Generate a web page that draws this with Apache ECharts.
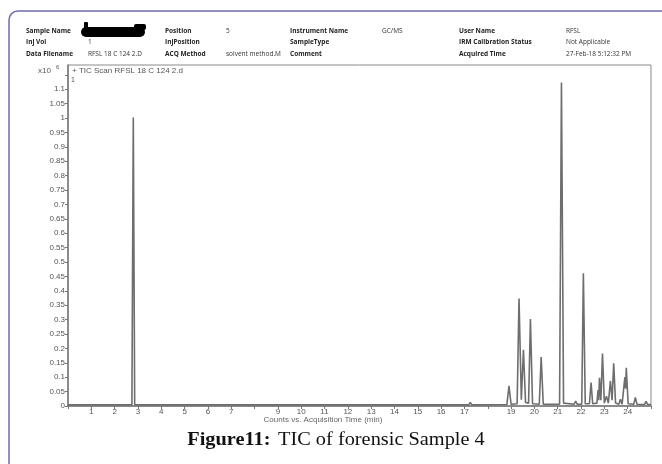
<!DOCTYPE html>
<html>
<head>
<meta charset="utf-8">
<script src="https://cdn.jsdelivr.net/npm/echarts@6/dist/echarts.min.js"></script>
<style>
  html, body { margin: 0; padding: 0; background: #fff; }
  #chart { width: 662px; height: 464px; }
</style>
</head>
<body>
<div id="chart"></div>
<script>
// Total ion chromatogram: retention time (min) vs. counts (x10^6)
const retentionTimes = [
  0, 2.74, 2.80, 2.86, 3.30, 3.35, 3.40,
  15.40, 15.48, 15.56, 17.18, 17.25, 17.32,
  18.82, 18.91, 19.00, 19.26, 19.34, 19.44, 19.53, 19.62, 19.75, 19.83, 19.92,
  20.21, 20.29, 20.38, 21.08, 21.16, 21.25, 21.70, 21.77, 21.84,
  22.03, 22.10, 22.18, 22.36, 22.43, 22.50, 22.68, 22.73, 22.76, 22.79, 22.85,
  22.92, 23.00, 23.09, 23.17, 23.26, 23.33, 23.40, 23.48, 23.62, 23.69, 23.76,
  23.84, 23.88, 23.91, 23.94, 24.02, 24.26, 24.33, 24.40, 24.72, 24.79, 24.86, 25
];
const counts = [
  0.004, 0.004, 1.002, 0.004, 0.004, 0.008, 0.004,
  0.004, 0.008, 0.004, 0.004, 0.012, 0.004,
  0.005, 0.070, 0.006, 0.008, 0.373, 0.022, 0.195, 0.012, 0.010, 0.302, 0.008,
  0.006, 0.170, 0.006, 0.006, 1.123, 0.010, 0.006, 0.017, 0.006,
  0.006, 0.461, 0.008, 0.008, 0.081, 0.008, 0.010, 0.055, 0.020, 0.098, 0.020,
  0.182, 0.010, 0.034, 0.010, 0.087, 0.020, 0.148, 0.010, 0.006, 0.023, 0.006,
  0.010, 0.100, 0.060, 0.133, 0.008, 0.006, 0.030, 0.006, 0.005, 0.016, 0.005, 0.005
];
const xTickLabels = ['', '1', '2', '3', '4', '5', '6', '7', '', '9', '10', '11', '12',
  '13', '14', '15', '16', '17', '', '19', '20', '21', '22', '23', '24', ''];

// Acquisition header rows: [label, value] per column
const headerCol1 = [['Sample Name', ''], ['Inj Vol', '1'], ['Data Filename', 'RFSL 18 C 124 2.D']];
const headerCol2 = [['Position', '5'], ['InjPosition', ''], ['ACQ Method', 'solvent method.M']];
const headerCol3 = [['Instrument Name', 'GC/MS'], ['SampleType', ''], ['Comment', '']];
const headerCol4 = [['User Name', 'RFSL'], ['IRM Calibration Status', 'Not Applicable'], ['Acquired Time', '27-Feb-18 5:12:32 PM']];

const seriesData = retentionTimes.map((t, i) => [t, counts[i]]);

const headerFont = '"Open Sans", "Liberation Sans", sans-serif';
const headerGraphics = [];
const columns = [
  { rows: headerCol1, lx: 26, vx: 88 },
  { rows: headerCol2, lx: 165, vx: 226 },
  { rows: headerCol3, lx: 290, vx: 382 },
  { rows: headerCol4, lx: 459, vx: 566 }
];
const rowY = [32, 43.5, 55];
columns.forEach(col => {
  col.rows.forEach((r, i) => {
    headerGraphics.push({
      type: 'text', left: col.lx, top: rowY[i] - 4.5,
      style: { text: r[0], font: 'bold 6.5px ' + headerFont, fill: '#222' }
    });
    if (r[1]) {
      headerGraphics.push({
        type: 'text', left: col.vx, top: rowY[i] - 4.5,
        style: { text: r[1], font: '6.5px ' + headerFont, fill: '#333' }
      });
    }
  });
});

const chart = echarts.init(document.getElementById('chart'), null, { renderer: 'canvas' });
chart.setOption({
  animation: false,
  backgroundColor: '#fff',
  grid: {
    left: 68, right: 11, top: 65, bottom: 58,
    show: true, borderColor: '#8a8a8a', borderWidth: 1
  },
  xAxis: {
    type: 'value', min: 0, max: 25, interval: 1,
    axisLine: { show: true, lineStyle: { color: '#777', width: 1.5 } },
    axisTick: { show: true, length: 3, lineStyle: { color: '#777' } },
    axisLabel: {
      margin: 2, fontSize: 8, color: '#555', fontFamily: 'Liberation Sans, sans-serif',
      showMinLabel: true, showMaxLabel: true,
      formatter: v => xTickLabels[Math.round(v)] || ''
    },
    splitLine: { show: false }
  },
  yAxis: {
    type: 'value', min: 0, max: 1.184, interval: 0.05,
    axisLine: { show: true, lineStyle: { color: '#777', width: 1.5 } },
    axisTick: { show: true, length: 3, lineStyle: { color: '#777' } },
    axisLabel: {
      margin: 3, fontSize: 8, color: '#555', fontFamily: 'Liberation Sans, sans-serif',
      showMaxLabel: false,
      formatter: v => (v > 1.101 ? '' : String(Math.round(v * 100) / 100))
    },
    splitLine: { show: false }
  },
  graphic: [
    // outer figure frame
    {
      type: 'rect', shape: { x: 9, y: 11, width: 700, height: 520, r: 9 },
      style: { fill: 'none', stroke: '#6f6cab', lineWidth: 1.5 }, silent: true
    },
    // redacted sample name
    {
      type: 'rect', shape: { x: 81, y: 27, width: 64, height: 10, r: 5 },
      style: { fill: '#000' }
    },
    {
      type: 'rect', shape: { x: 84, y: 22, width: 4, height: 7, r: 1 },
      style: { fill: '#000' }
    },
    {
      type: 'rect', shape: { x: 134, y: 24, width: 12, height: 6, r: 2 },
      style: { fill: '#000' }
    },
    ...headerGraphics,
    // scale factor and trace title
    {
      type: 'text', left: 38, top: 67,
      style: { text: 'x10', font: '8px Liberation Sans, sans-serif', fill: '#555' }
    },
    {
      type: 'text', left: 56, top: 64,
      style: { text: '6', font: '6px Liberation Sans, sans-serif', fill: '#555' }
    },
    {
      type: 'text', left: 72, top: 67,
      style: { text: '+ TIC Scan RFSL 18 C 124 2.d', font: '8px Liberation Sans, sans-serif', fill: '#555' }
    },
    {
      type: 'text', left: 71, top: 77,
      style: { text: '1', font: '7px Liberation Sans, sans-serif', fill: '#555' }
    },
    // x axis title
    {
      type: 'text', x: 323, y: 419.5,
      style: {
        text: 'Counts vs. Acquisition Time (min)', font: '8px Liberation Sans, sans-serif',
        fill: '#666', textAlign: 'center', textVerticalAlign: 'middle'
      }
    },
    // caption
    {
      type: 'text', x: 336, y: 440, scaleX: 1.13,
      style: {
        text: '{b|Figure11:}  {r|TIC of forensic Sample 4}',
        textAlign: 'center', textVerticalAlign: 'middle',
        rich: {
          b: { font: 'bold 18px "Liberation Serif", serif', fill: '#111' },
          r: { font: '18px "Liberation Serif", serif', fill: '#111' }
        }
      }
    }
  ],
  series: [{
    type: 'line',
    data: seriesData,
    showSymbol: false,
    lineStyle: { color: '#6e6e6e', width: 1.6 },
    z: 3
  }]
});
</script>
</body>
</html>
